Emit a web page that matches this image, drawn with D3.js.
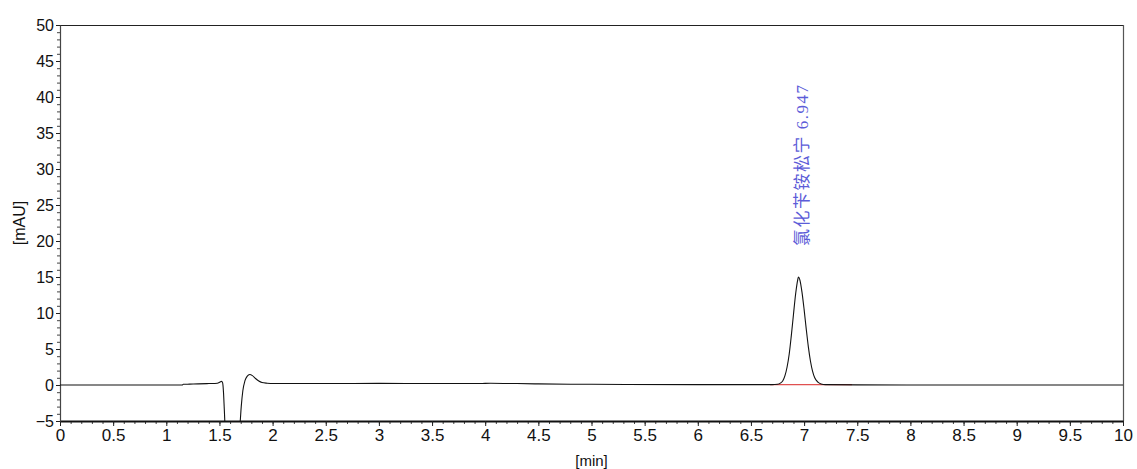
<!DOCTYPE html>
<html>
<head>
<meta charset="utf-8">
<script src="https://cdn.jsdelivr.net/npm/d3@7"></script>
<style>
  html, body { margin: 0; padding: 0; background: #fff; }
  svg { display: block; }
  text { font-family: "Liberation Sans", Arial, sans-serif; fill: #111; }
  text.peak-label { font-family: "Liberation Serif", "Noto Sans CJK SC", serif; fill: #5c5cd8; }
</style>
</head>
<body>
<svg id="chart" width="1137" height="469"></svg>
<script>
// Chromatogram trace: retention time [min] and detector signal [mAU]
const timeMin = [
  0, 1.15, 1.16, 1.22, 1.3, 1.4, 1.48, 1.505, 1.52, 1.53, 1.538, 1.546, 1.556, 1.6, 1.66, 1.693, 1.705, 1.72,
  1.74, 1.76, 1.785, 1.81, 1.84, 1.87, 1.9, 1.95, 2.0, 2.5, 3.0, 3.5, 3.95, 4.05, 4.3, 4.5, 5.0,
  6.0, 6.6, 6.7, 6.75, 6.78, 6.8, 6.82, 6.84, 6.86, 6.88, 6.9, 6.92, 6.94, 6.947, 6.96, 6.98,
  7.0, 7.02, 7.04, 7.06, 7.08, 7.1, 7.13, 7.16, 7.2, 7.5, 8.5, 10
];
const signalMAU = [
  0, 0, 0.1, 0.12, 0.15, 0.2, 0.25, 0.4, 0.5, 0.3, -1.0, -3.5, -6.5, -9, -8, -5.5, -3.0, -0.8,
  0.6, 1.2, 1.45, 1.3, 0.9, 0.55, 0.35, 0.25, 0.2, 0.2, 0.22, 0.2, 0.2, 0.25, 0.2, 0.15, 0.1,
  0.05, 0.05, 0.05, 0.1, 0.3, 0.6, 1.3, 2.5, 4.3, 6.9, 9.8, 12.6, 14.6, 15.0, 14.6, 12.9,
  10.5, 7.8, 5.3, 3.3, 1.9, 1.0, 0.4, 0.15, 0.05, 0.02, 0, 0
];

// Integration baseline under the peak
const baselineTime = [6.68, 7.45];
const baselineMAU = [0.05, 0.05];

// Peak annotation
const peakName = "氯化苄铵松宁";
const peakTime = 6.947;
const peakHeight = 15.0;

// Axis ticks
const xMajor = [0, 0.5, 1, 1.5, 2, 2.5, 3, 3.5, 4, 4.5, 5, 5.5, 6, 6.5, 7, 7.5, 8, 8.5, 9, 9.5, 10];
const xMinorStep = 0.1;
const yMajor = [-5, 0, 5, 10, 15, 20, 25, 30, 35, 40, 45, 50];
const yMinorStep = 1;
const xDomain = [0, 10];
const yDomain = [-5, 50];

const svg = d3.select("#chart");
const mLeft = 60, mRight = 1123, mTop = 25, mBottom = 421;

const x = d3.scaleLinear().domain(xDomain).range([mLeft, mRight]);
const y = d3.scaleLinear().domain(yDomain).range([mBottom, mTop]);

const xMinor = d3.range(xDomain[0], xDomain[1] + 1e-9, xMinorStep).map(v => +v.toFixed(2));
const yMinor = d3.range(yDomain[0], yDomain[1] + 1e-9, yMinorStep);

svg.append("defs").append("clipPath").attr("id", "plotClip")
  .append("rect").attr("x", mLeft).attr("y", mTop).attr("width", mRight - mLeft).attr("height", mBottom - mTop);

// frame (top and right)
svg.append("line").attr("x1", mLeft).attr("x2", mRight).attr("y1", mTop + 0.5).attr("y2", mTop + 0.5)
  .attr("stroke", "#222").attr("stroke-width", 1);
svg.append("line").attr("x1", mRight + 0.5).attr("x2", mRight + 0.5).attr("y1", mTop).attr("y2", mBottom)
  .attr("stroke", "#555").attr("stroke-width", 1.2);

// minor ticks
svg.append("g").attr("transform", `translate(0,${mBottom})`)
  .call(d3.axisBottom(x).tickValues(xMinor).tickSize(3).tickFormat(""))
  .call(g => g.select(".domain").remove())
  .call(g => g.selectAll("line").attr("stroke", "#444"));
svg.append("g").attr("transform", `translate(${mLeft},0)`)
  .call(d3.axisLeft(y).tickValues(yMinor).tickSize(3).tickFormat(""))
  .call(g => g.select(".domain").remove())
  .call(g => g.selectAll("line").attr("stroke", "#444"));

// major axes
svg.append("g").attr("transform", `translate(0,${mBottom})`)
  .call(d3.axisBottom(x).tickValues(xMajor).tickSize(5).tickSizeOuter(0).tickPadding(3).tickFormat(d3.format("")))
  .call(g => g.select(".domain").attr("stroke", "#111").attr("stroke-width", 2))
  .call(g => g.selectAll("line").attr("stroke", "#222"))
  .call(g => g.selectAll("text").attr("font-size", 17).attr("fill", "#111"));

svg.append("g").attr("transform", `translate(${mLeft},0)`)
  .call(d3.axisLeft(y).tickValues(yMajor).tickSize(4).tickSizeOuter(0).tickPadding(2).tickFormat(d3.format("")))
  .call(g => g.select(".domain").attr("stroke", "#444").attr("stroke-width", 1.2))
  .call(g => g.selectAll("line").attr("stroke", "#222"))
  .call(g => g.selectAll("text").attr("font-size", 16).attr("fill", "#111"));

// axis titles
svg.append("text").attr("x", (mLeft + mRight) / 2).attr("y", 466).attr("text-anchor", "middle")
  .attr("font-size", 15).text("[min]");
svg.append("text").attr("transform", `translate(25,${(mTop + mBottom) / 2}) rotate(-90)`)
  .attr("text-anchor", "middle").attr("font-size", 16).text("[mAU]");

const plot = svg.append("g").attr("clip-path", "url(#plotClip)");

// integration baseline
plot.append("path")
  .datum(baselineTime.map((t, i) => [t, baselineMAU[i]]))
  .attr("d", d3.line().x(d => x(d[0])).y(d => y(d[1])))
  .attr("fill", "none").attr("stroke", "#e05050").attr("stroke-width", 1.2);

// trace
plot.append("path")
  .datum(timeMin.map((t, i) => [t, signalMAU[i]]))
  .attr("d", d3.line().x(d => x(d[0])).y(d => y(d[1])).curve(d3.curveMonotoneX))
  .attr("fill", "none").attr("stroke", "#111").attr("stroke-width", 1.1);

// peak label
svg.append("text")
  .attr("class", "peak-label")
  .attr("transform", `translate(${x(peakTime) + 4},${y(peakHeight) - 31}) rotate(-90)`)
  .attr("text-anchor", "start").attr("dominant-baseline", "central")
  .attr("font-size", 17)
  .style("letter-spacing", "1.5px")
  .text(`${peakName} ${peakTime.toFixed(3)}`);
</script>
</body>
</html>
